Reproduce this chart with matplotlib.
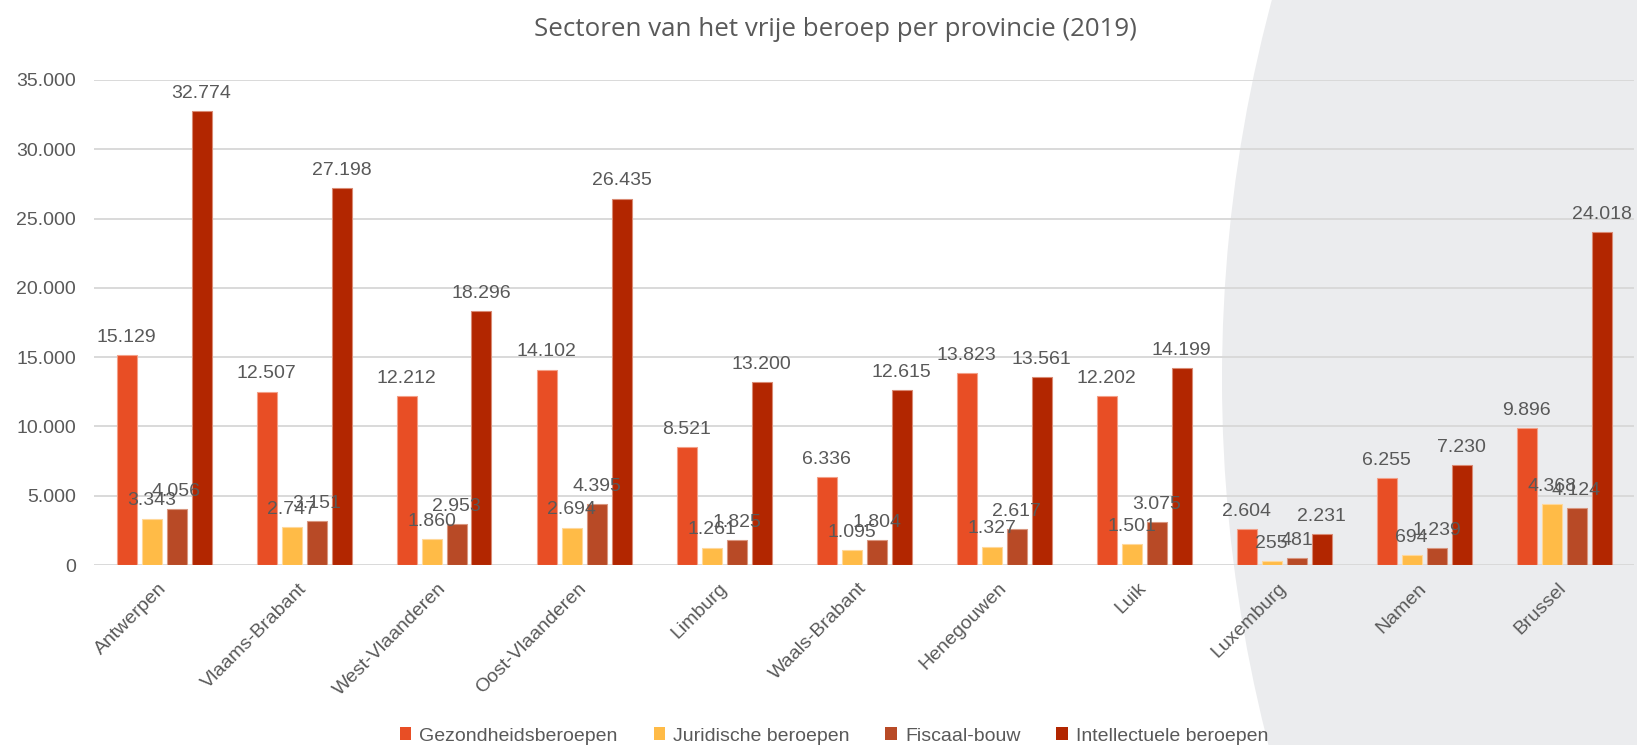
import matplotlib
matplotlib.use("Agg")
import matplotlib.pyplot as plt
import numpy as np
from matplotlib.patches import Patch, Ellipse
from matplotlib.ticker import FuncFormatter, MultipleLocator

# Provinces and counts per sector
provinces = ["Antwerpen", "Vlaams-Brabant", "West-Vlaanderen", "Oost-Vlaanderen",
             "Limburg", "Waals-Brabant", "Henegouwen", "Luik", "Luxemburg",
             "Namen", "Brussel"]
gezondheid = [15129, 12507, 12212, 14102, 8521, 6336, 13823, 12202, 2604, 6255, 9896]
juridisch = [3343, 2747, 1860, 2694, 1261, 1095, 1327, 1501, 255, 694, 4368]
fiscaal = [4056, 3151, 2953, 4395, 1825, 1804, 2617, 3075, 481, 1239, 4124]
intellectueel = [32774, 27198, 18296, 26435, 13200, 12615, 13561, 14199, 2231, 7230, 24018]

series_names = ["Gezondheidsberoepen", "Juridische beroepen", "Fiscaal-bouw",
                "Intellectuele beroepen"]
series_values = [gezondheid, juridisch, fiscaal, intellectueel]
colors = ["#E84E25", "#FFBB47", "#B84A26", "#B22600"]
edges = ["#F3A088", "#FFD89A", "#D9967F", "#D98A73"]

title = "Sectoren van het vrije beroep per provincie (2019)"
TXT = "#595959"
FONT = "Liberation Sans"


def dotted(v):
    return f"{int(round(v)):,}".replace(",", ".")


W, H = 1637, 745
fig = plt.figure(figsize=(W / 100, H / 100), dpi=100, facecolor="white")

# large soft-gray disc on the right side of the canvas
r = 1466
fig.patches.append(Ellipse(((1222 + r) / W, 1 - 379 / H), 2 * r / W, 2 * r / H,
                           transform=fig.transFigure, facecolor="#EBECEE",
                           edgecolor="none", zorder=0))

ax = fig.add_axes([94 / W, 1 - 565 / H, 1540 / W, 485 / H])
ax.set_facecolor("none")
ax.set_zorder(2)

x = np.arange(len(provinces))
pitch = 25 / 140
width = 20 / 140
offsets = (np.arange(4) - 1.5) * pitch

for k, (vals, c, ec) in enumerate(zip(series_values, colors, edges)):
    bars = ax.bar(x + offsets[k], vals, width=width, color=c, edgecolor=ec,
                  linewidth=0.8, zorder=3)
    for b, v in zip(bars, vals):
        ax.annotate(dotted(v), (b.get_x() + b.get_width() / 2, v),
                    xytext=(0, 9.5), textcoords="offset points",
                    ha="center", va="baseline", fontsize=14, color=TXT,
                    family=FONT, zorder=4, annotation_clip=False)

ax.set_xlim(-0.5, len(provinces) - 0.5)
ax.set_ylim(0, 35000)
ax.yaxis.set_major_locator(MultipleLocator(5000))
ax.yaxis.set_major_formatter(FuncFormatter(lambda v, p: dotted(v)))
ax.grid(axis="y", color="#D9D9D9", linewidth=1.4, zorder=1)
ax.set_axisbelow(True)
for s in ax.spines.values():
    s.set_visible(False)
ax.tick_params(axis="y", length=0, pad=13, labelsize=14, labelcolor=TXT)
ax.tick_params(axis="x", length=0, pad=15, labelsize=14, labelcolor=TXT)
ax.set_xticks(x)
ax.set_xticklabels(provinces, rotation=45, ha="right", va="center",
                   rotation_mode="anchor")
for lab in ax.get_xticklabels() + ax.get_yticklabels():
    lab.set_family(FONT)

fig.text(835 / W, 1 - 29 / H, title, ha="center", va="center", fontsize=18.6,
         color=TXT, family="Open Sans")

handles = [Patch(facecolor=c, edgecolor="none") for c in colors]
fig.legend(handles, series_names, loc="center", bbox_to_anchor=(834 / W, 1 - 736 / H),
           ncol=4, frameon=False, handlelength=0.6, handleheight=0.6,
           handletextpad=0.4, columnspacing=1.85, borderaxespad=0, borderpad=0,
           prop={"family": FONT, "size": 14}, labelcolor=TXT)

fig.savefig("out.png", dpi=100, facecolor="white")
